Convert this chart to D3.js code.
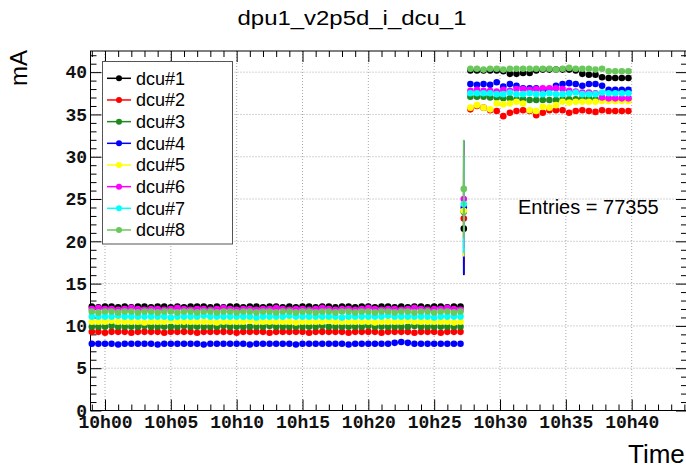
<!DOCTYPE html>
<html>
<head>
<meta charset="utf-8">
<script src="https://cdn.jsdelivr.net/npm/d3@7"></script>
<style>
  html, body { margin: 0; padding: 0; background: #fff; }
  svg { display: block; }
</style>
</head>
<body>
<svg id="chart" width="686" height="468"></svg>
<script>
// ---- data -------------------------------------------------------------
const seriesNames = ["dcu#1", "dcu#2", "dcu#3", "dcu#4", "dcu#5", "dcu#6", "dcu#7", "dcu#8"];
const seriesColors = ["#000000", "#ff0000", "#1e8a1e", "#0000ff", "#ffff00", "#ff00ff", "#00ffff", "#6ac75c"];

// sample times, in minutes after 10h00
const timesLow = [
  -1, -0.5, 0, 0.5, 1, 1.5, 2, 2.5, 3, 3.5,
  4, 4.5, 5, 5.5, 6, 6.5, 7, 7.5, 8, 8.5,
  9, 9.5, 10, 10.5, 11, 11.5, 12, 12.5, 13, 13.5,
  14, 14.5, 15, 15.5, 16, 16.5, 17, 17.5, 18, 18.5,
  19, 19.5, 20, 20.5, 21, 21.5, 22, 22.5, 23, 23.5,
  24, 24.5, 25, 25.5, 26, 26.5, 27
];
const timeStep = 27.25;
const timesHigh = [
  27.75, 28.25, 28.75, 29.25, 29.75, 30.25, 30.75, 31.25, 31.75, 32.25,
  32.75, 33.25, 33.75, 34.25, 34.75, 35.25, 35.75, 36.25, 36.75, 37.25,
  37.75, 38.25, 38.75, 39.25, 39.75
];

// current (mA) before the step
const dcu1Low = [
  12.3,12.2,12.3,12.3,12.2,12.3,12.2,12.3,12.3,12.2,
  12.3,12.3,12.2,12.3,12.2,12.3,12.3,12.3,12.2,12.3,
  12.2,12.3,12.3,12.2,12.3,12.3,12.2,12.3,12.3,12.2,
  12.3,12.2,12.3,12.3,12.2,12.3,12.3,12.2,12.3,12.3,
  12.2,12.3,12.3,12.2,12.3,12.3,12.2,12.3,12.2,12.3,
  12.3,12.2,12.3,12.3,12.2,12.3,12.3
];
const dcu2Low = [
  9.3,9.3,9.2,9.3,9.3,9.3,9.2,9.3,9.3,9.3,
  9.3,9.2,9.3,9.3,9.3,9.3,9.2,9.3,9.3,9.3,
  9.3,9.3,9.2,9.3,9.3,9.3,9.3,9.2,9.3,9.3,
  9.3,9.3,9.3,9.2,9.3,9.3,9.3,9.3,9.3,9.2,
  9.3,9.3,9.3,9.3,9.2,9.3,9.3,9.3,9.3,9.2,
  9.3,9.3,9.3,9.2,9.3,9.3,9.3
];
const dcu3Low = [
  9.9,9.9,9.9,10.0,9.9,9.9,9.9,9.9,10.0,9.9,
  9.9,9.9,9.9,9.9,10.0,9.9,9.9,9.9,9.9,9.9,
  10.0,9.9,9.9,9.9,9.9,9.9,9.9,10.0,9.9,9.9,
  9.9,9.9,9.9,9.9,9.9,10.0,9.9,9.9,9.9,9.9,
  9.9,9.9,10.0,9.9,9.9,9.9,9.9,9.9,9.9,10.0,
  9.9,9.9,9.9,9.9,9.9,9.9,9.9
];
const dcu4Low = [
  7.9,7.9,7.9,7.9,7.8,7.9,7.9,7.9,7.9,7.9,
  7.8,7.9,7.9,7.9,7.9,7.9,7.9,7.8,7.9,7.9,
  7.9,7.9,7.9,7.9,7.8,7.9,7.9,7.9,7.9,7.9,
  7.9,7.8,7.9,7.9,7.9,7.9,7.9,7.9,7.9,7.8,
  7.9,7.9,7.9,7.9,7.9,7.9,8.0,8.1,8.0,7.9,
  7.9,7.9,7.9,7.9,7.9,7.9,7.9
];
const dcu5Low = [
  10.5,10.5,10.5,10.6,10.5,10.5,10.5,10.5,10.4,10.5,
  10.5,10.5,10.6,10.5,10.5,10.5,10.5,10.5,10.5,10.4,
  10.5,10.5,10.5,10.5,10.6,10.5,10.5,10.5,10.5,10.5,
  10.5,10.4,10.5,10.5,10.5,10.5,10.6,10.5,10.5,10.5,
  10.5,10.5,10.5,10.4,10.5,10.5,10.5,10.5,10.6,10.5,
  10.5,10.5,10.5,10.5,10.5,10.4,10.5
];
const dcu6Low = [
  12.0,12.1,12.0,12.0,11.9,12.0,12.1,12.0,11.9,12.0,
  12.0,11.9,12.0,12.1,12.0,11.9,12.0,12.0,11.9,12.0,
  12.1,12.0,11.9,12.0,12.0,11.9,12.0,12.0,12.1,12.0,
  11.9,12.0,12.0,11.9,12.0,12.1,12.0,11.9,12.0,12.0,
  11.9,12.0,12.1,12.0,11.9,12.0,12.0,11.9,12.0,12.1,
  12.0,11.9,12.0,12.0,12.1,12.0,11.9
];
const dcu7Low = [
  11.1,11.1,11.1,11.1,11.2,11.1,11.1,11.1,11.1,11.1,
  11.1,11.1,11.0,11.1,11.1,11.1,11.1,11.2,11.1,11.1,
  11.1,11.1,11.1,11.1,11.1,11.0,11.1,11.1,11.1,11.1,
  11.2,11.1,11.1,11.1,11.1,11.1,11.1,11.1,11.0,11.1,
  11.1,11.1,11.1,11.1,11.1,11.2,11.1,11.1,11.1,11.1,
  11.1,11.1,11.0,11.1,11.1,11.1,11.1
];
const dcu8Low = [
  11.7,11.6,11.7,11.7,11.6,11.7,11.7,11.6,11.7,11.7,
  11.6,11.7,11.7,11.6,11.7,11.7,11.6,11.7,11.7,11.6,
  11.7,11.7,11.6,11.7,11.7,11.6,11.7,11.7,11.6,11.7,
  11.7,11.6,11.7,11.7,11.6,11.7,11.7,11.6,11.7,11.7,
  11.6,11.7,11.7,11.6,11.7,11.7,11.6,11.7,11.7,11.6,
  11.7,11.7,11.6,11.7,11.7,11.6,11.7
];

// mean and spread of the reading taken during the switch-over
const stepValues = [21.5, 22.7, 23.5, 24.0, 23.6, 25.0, 24.4, 26.2];
const stepErrors = [5.5, 5.6, 5.5, 7.9, 5.4, 5.8, 5.8, 5.8];

// current (mA) after the step
const dcu1High = [40.2,40.2,40.2,40.2,40.2,40.1,39.8,39.8,39.9,39.9,40.2,40.3,40.3,40.3,40.3,40.3,40.2,39.8,39.7,39.7,39.4,39.3,39.3,39.3,39.3];
const dcu2High = [35.6,36.0,35.8,35.5,35.4,34.8,35.2,35.4,35.5,35.4,34.9,35.2,35.5,35.5,35.5,35.2,35.4,35.5,35.4,35.3,35.5,35.4,35.4,35.4,35.4];
const dcu3High = [37.1,37.1,37.1,37.0,37.0,36.9,36.9,36.8,36.8,36.7,36.7,36.7,36.7,36.7,36.8,36.8,36.8,36.9,36.9,36.8,36.8,36.8,36.8,36.8,36.8];
const dcu4High = [38.6,38.5,38.6,38.5,38.8,38.3,38.6,38.4,38.1,38.1,38.1,37.9,38.0,38.4,38.6,38.7,38.6,38.4,38.6,38.6,38.4,37.9,37.9,37.9,37.9];
const dcu5High = [35.8,36.1,35.8,35.6,36.3,36.2,36.3,36.5,36.3,35.5,35.4,35.9,35.8,36.1,36.5,36.4,36.5,36.5,36.5,36.5,36.6,36.6,36.6,36.6,36.6];
const dcu6High = [37.8,37.9,37.8,37.8,37.7,37.9,37.8,38.0,38.0,37.9,38.0,38.1,38.1,38.1,38.0,37.8,37.7,37.6,37.6,37.5,37.0,36.9,36.9,36.9,36.9];
const dcu7High = [37.5,37.5,37.5,37.5,37.4,37.4,37.6,37.4,37.4,37.5,37.4,37.4,37.5,37.4,37.4,37.5,37.6,37.4,37.4,37.4,37.6,37.5,37.5,37.5,37.5];
const dcu8High = [40.4,40.4,40.3,40.4,40.4,40.3,40.4,40.4,40.4,40.4,40.4,40.4,40.4,40.3,40.4,40.5,40.4,40.4,40.4,40.3,40.4,40.1,40.1,40.1,40.1];

const lowSets  = [dcu1Low, dcu2Low, dcu3Low, dcu4Low, dcu5Low, dcu6Low, dcu7Low, dcu8Low];
const highSets = [dcu1High, dcu2High, dcu3High, dcu4High, dcu5High, dcu6High, dcu7High, dcu8High];

// axis ticks
const xTickMinutes = [0, 5, 10, 15, 20, 25, 30, 35, 40];
const xTickLabels = ["10h00", "10h05", "10h10", "10h15", "10h20", "10h25", "10h30", "10h35", "10h40"];
const xMinorMinutes = [-1, 1, 2, 3, 4, 6, 7, 8, 9, 11, 12, 13, 14, 16, 17, 18, 19, 21, 22, 23, 24,
                       26, 27, 28, 29, 31, 32, 33, 34, 36, 37, 38, 39, 41, 42, 43, 44];
const yTicks = [0, 5, 10, 15, 20, 25, 30, 35, 40];
const yMinor = [1, 2, 3, 4, 6, 7, 8, 9, 11, 12, 13, 14, 16, 17, 18, 19, 21, 22, 23, 24,
                26, 27, 28, 29, 31, 32, 33, 34, 36, 37, 38, 39, 41, 42];

const chartTitle = "dpu1_v2p5d_i_dcu_1";
const entriesText = "Entries = 77355";

// ---- layout -----------------------------------------------------------
const frame = { left: 90.5, right: 687, top: 51, bottom: 410.5 };
const svg = d3.select("#chart");

const x = d3.scaleLinear().domain([-1.1, 44.2]).range([frame.left, frame.right]);
const y = d3.scaleLinear().domain([0, 42.5]).range([frame.bottom, frame.top]);

const sans = "'Liberation Sans', Arial, Helvetica, sans-serif";
const mono = "'Liberation Mono', 'Courier New', monospace";

// grid
const grid = svg.append("g").attr("stroke", "#a8a8a8").attr("stroke-width", 1)
  .attr("stroke-dasharray", "1,2");
grid.selectAll("line.gx").data(xTickMinutes).join("line").attr("class", "gx")
  .attr("x1", d => x(d)).attr("x2", d => x(d))
  .attr("y1", frame.top).attr("y2", frame.bottom);
grid.selectAll("line.gy").data(yTicks.filter(d => d > 0)).join("line").attr("class", "gy")
  .attr("x1", frame.left).attr("x2", frame.right)
  .attr("y1", d => y(d)).attr("y2", d => y(d));

// axes (ticks point into the frame on all four sides)
function styleAxis(g) {
  g.select(".domain").remove();
  g.selectAll(".tick line").attr("stroke", "#000");
}
svg.append("g").attr("transform", `translate(0,${frame.bottom})`)
  .call(d3.axisBottom(x).tickValues(xTickMinutes).tickFormat((d, i) => xTickLabels[i])
    .tickSize(-11).tickPadding(5))
  .call(styleAxis)
  .call(g => g.selectAll("text").attr("font-family", mono).attr("font-weight", "bold")
    .attr("font-size", 18).attr("fill", "#111"));
svg.append("g").attr("transform", `translate(0,${frame.bottom})`)
  .call(d3.axisBottom(x).tickValues(xMinorMinutes).tickFormat("").tickSize(-6))
  .call(styleAxis);
svg.append("g").attr("transform", `translate(0,${frame.top})`)
  .call(d3.axisTop(x).tickValues(xTickMinutes).tickFormat("").tickSize(-11))
  .call(styleAxis);
svg.append("g").attr("transform", `translate(0,${frame.top})`)
  .call(d3.axisTop(x).tickValues(xMinorMinutes).tickFormat("").tickSize(-6))
  .call(styleAxis);

svg.append("g").attr("transform", `translate(${frame.left},0)`)
  .call(d3.axisLeft(y).tickValues(yTicks).tickFormat(d3.format("d")).tickSize(-11).tickPadding(3.5))
  .call(styleAxis)
  .call(g => g.selectAll("text").attr("font-family", mono).attr("font-weight", "bold")
    .attr("font-size", 18).attr("fill", "#111"));
svg.append("g").attr("transform", `translate(${frame.left},0)`)
  .call(d3.axisLeft(y).tickValues(yMinor).tickFormat("").tickSize(-6))
  .call(styleAxis);
svg.append("g").attr("transform", `translate(${frame.right},0)`)
  .call(d3.axisRight(y).tickValues(yTicks).tickFormat("").tickSize(-11))
  .call(styleAxis);
svg.append("g").attr("transform", `translate(${frame.right},0)`)
  .call(d3.axisRight(y).tickValues(yMinor).tickFormat("").tickSize(-6))
  .call(styleAxis);

// frame
svg.append("rect")
  .attr("x", frame.left).attr("y", frame.top)
  .attr("width", frame.right - frame.left).attr("height", frame.bottom - frame.top)
  .attr("fill", "none").attr("stroke", "#000").attr("stroke-width", 1);

// ---- series -----------------------------------------------------------
const markerR = 3.3;
seriesNames.forEach((name, i) => {
  const pts = timesLow.map((t, k) => ({ t, v: lowSets[i][k] }))
    .concat([{ t: timeStep, v: stepValues[i], e: stepErrors[i] }])
    .concat(timesHigh.map((t, k) => ({ t, v: highSets[i][k] })));
  const g = svg.append("g").attr("class", "series").attr("fill", seriesColors[i]);
  g.selectAll("line").data(pts.filter(p => p.e)).join("line")
    .attr("x1", p => x(p.t)).attr("x2", p => x(p.t))
    .attr("y1", p => y(p.v - p.e)).attr("y2", p => y(p.v + p.e))
    .attr("stroke", seriesColors[i]).attr("stroke-width", 1.7);
  g.selectAll("circle").data(pts).join("circle")
    .attr("cx", p => x(p.t)).attr("cy", p => y(p.v)).attr("r", markerR);
});

// ---- legend -----------------------------------------------------------
const legend = svg.append("g");
legend.append("rect").attr("x", 102.5).attr("y", 61.5).attr("width", 130).attr("height", 182.5)
  .attr("fill", "#fff").attr("stroke", "#555").attr("stroke-width", 1);
const rowH = 21.67;
seriesNames.forEach((name, i) => {
  const cy = 78.3 + i * rowH;
  legend.append("line").attr("x1", 107).attr("x2", 131).attr("y1", cy).attr("y2", cy)
    .attr("stroke", seriesColors[i]).attr("stroke-width", 1.5);
  legend.append("circle").attr("cx", 119).attr("cy", cy).attr("r", 3)
    .attr("fill", seriesColors[i]);
  legend.append("text").attr("x", 136).attr("y", cy).attr("dy", "0.35em")
    .attr("font-family", sans).attr("font-size", 18).attr("fill", "#000")
    .text(name);
});

// ---- texts ------------------------------------------------------------
svg.append("text").attr("x", 352).attr("y", 25).attr("text-anchor", "middle")
  .attr("font-family", sans).attr("font-size", 20).attr("fill", "#000")
  .attr("textLength", 229).attr("lengthAdjust", "spacingAndGlyphs")
  .text(chartTitle);

svg.append("text").attr("x", 518).attr("y", 214)
  .attr("font-family", sans).attr("font-size", 20).attr("fill", "#000")
  .text(entriesText);

svg.append("text").attr("transform", "translate(27,50) rotate(-90)")
  .attr("text-anchor", "end")
  .attr("font-family", sans).attr("font-size", 24).attr("fill", "#000")
  .text("mA");

svg.append("text").attr("x", 628).attr("y", 463)
  .attr("font-family", sans).attr("font-size", 26).attr("fill", "#000")
  .text("Time");
</script>
</body>
</html>
